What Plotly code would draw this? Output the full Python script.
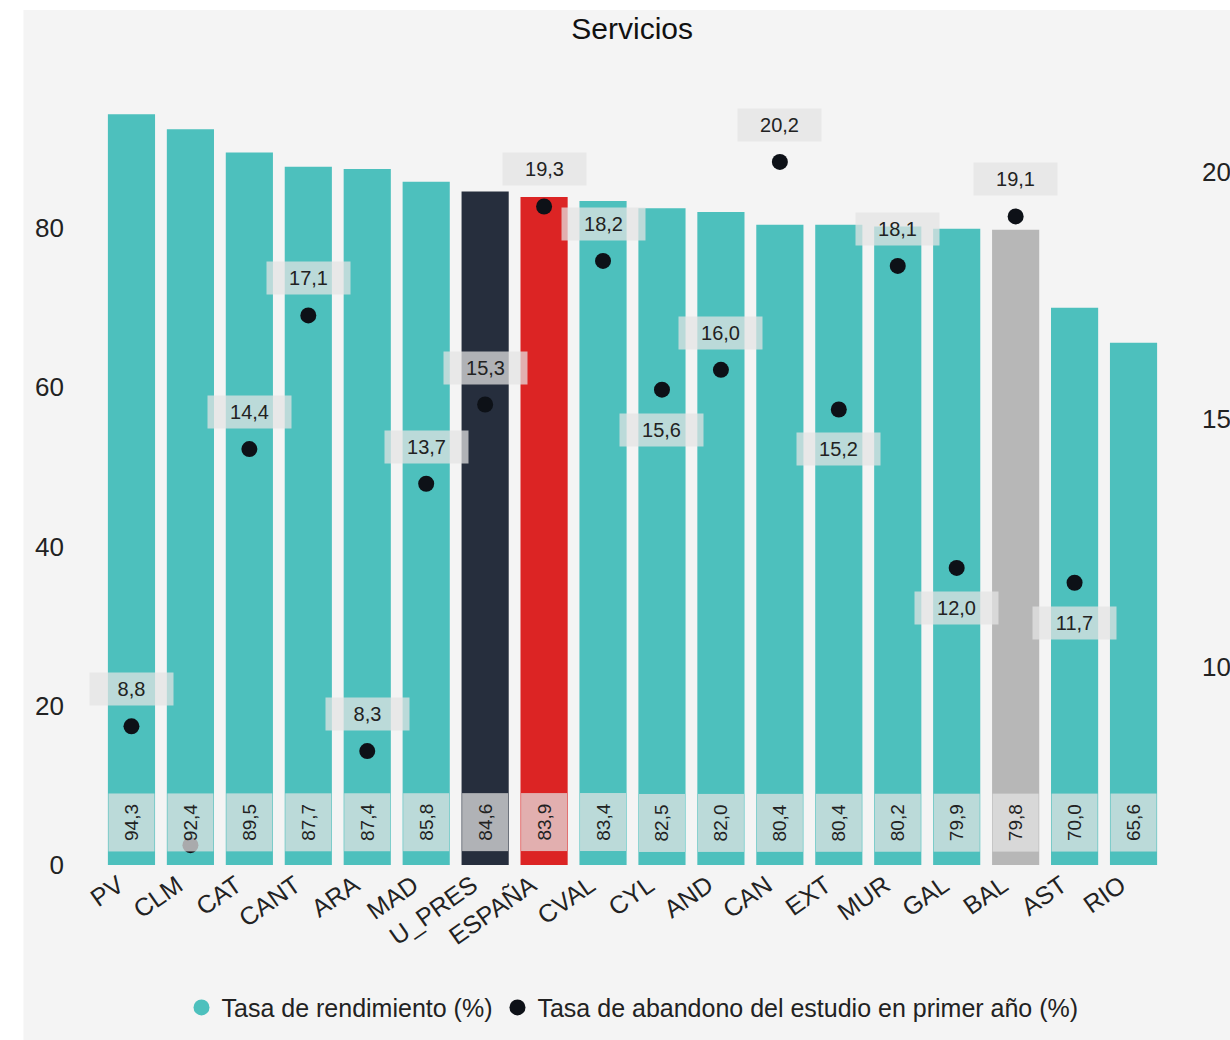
import plotly.graph_objects as go

# Datos
regiones = ["PV", "CLM", "CAT", "CANT", "ARA", "MAD", "U_PRES", "ESPAÑA", "CVAL",
            "CYL", "AND", "CAN", "EXT", "MUR", "GAL", "BAL", "AST", "RIO"]
rendimiento = [94.3, 92.4, 89.5, 87.7, 87.4, 85.8, 84.6, 83.9, 83.4,
               82.5, 82.0, 80.4, 80.4, 80.2, 79.9, 79.8, 70.0, 65.6]
abandono = [8.8, 6.4, 14.4, 17.1, 8.3, 13.7, 15.3, 19.3, 18.2,
            15.6, 16.0, 20.2, 15.2, 18.1, 12.0, 19.1, 11.7, None]

# estilos
TEAL = "#4dc0bd"
colores_especiales = {"U_PRES": "#262e3d", "ESPAÑA": "#dc2424", "BAL": "#b7b7b7"}
etiquetas_abajo = {"CYL", "EXT", "GAL", "AST"}
etiquetas_ocultas = {"CLM"}
FONT = "Arial, Liberation Sans, sans-serif"
CAJA = "rgba(227,227,227,0.73)"

def fmt(v):
    return f"{v:.1f}".replace(".", ",")

bar_colors = [colores_especiales.get(r, TEAL) for r in regiones]

fig = go.Figure()

fig.add_trace(go.Bar(
    x=regiones, y=rendimiento,
    marker=dict(color=bar_colors, line=dict(width=0)),
    name="Tasa de rendimiento (%)",
    showlegend=False,
    yaxis="y"))

fig.add_trace(go.Scatter(
    x=regiones, y=abandono,
    mode="markers",
    marker=dict(color="#0d1117", size=16),
    name="Tasa de abandono del estudio en primer año (%)",
    showlegend=False,
    yaxis="y2"))

# entradas de leyenda con circulos
fig.add_trace(go.Scatter(x=[None], y=[None], mode="markers",
                         marker=dict(color=TEAL, size=18),
                         name="Tasa de rendimiento (%)"))
fig.add_trace(go.Scatter(x=[None], y=[None], mode="markers",
                         marker=dict(color="#0d1117", size=18),
                         name="Tasa de abandono del estudio en primer año (%)"))

annotations = []
# etiquetas de las barras (giradas, en la base)
for r, v in zip(regiones, rendimiento):
    annotations.append(dict(
        x=r, y=0, xref="x", yref="y",
        text=fmt(v), showarrow=False, textangle=-90,
        yanchor="bottom", yshift=13,
        width=49, height=37, borderpad=4,
        bgcolor=CAJA,
        font=dict(size=19, color="#222", family=FONT)))

# etiquetas de los puntos
for r, v in zip(regiones, abandono):
    if v is None or r in etiquetas_ocultas:
        continue
    shift = -40 if r in etiquetas_abajo else 37
    annotations.append(dict(
        x=r, y=v, xref="x", yref="y2",
        text=fmt(v), showarrow=False,
        yanchor="middle", yshift=shift,
        width=75, height=24, borderpad=4,
        bgcolor=CAJA,
        font=dict(size=20, color="#222", family=FONT)))

fig.update_layout(
    width=1230, height=1040,
    margin=dict(l=102, r=67, t=77, b=175, autoexpand=False),
    paper_bgcolor="white",
    plot_bgcolor="rgba(0,0,0,0)",
    font=dict(family=FONT, color="#222"),
    title=dict(text="Servicios", x=0.514, xanchor="center",
               y=1 - 28 / 1040, yanchor="middle", yref="container",
               font=dict(size=30, color="#111", family=FONT)),
    bargap=0.2,
    showlegend=True,
    legend=dict(orientation="h", x=0.5, xanchor="center", y=-0.181, yanchor="middle",
                font=dict(size=25, family=FONT, color="#222"),
                bgcolor="rgba(0,0,0,0)", itemwidth=30),
    xaxis=dict(type="category", range=[-0.5, len(regiones) - 0.5], tickangle=-35,
               showgrid=False, showline=False, zeroline=False, ticks="", automargin=False,
               ticklabelshift=-13,
               tickfont=dict(size=25, family=FONT, color="#222")),
    yaxis=dict(range=[0, 98.97], tickvals=[0, 20, 40, 60, 80], showgrid=False,
               zeroline=False, showline=False, ticklabelstandoff=37, automargin=False,
               tickfont=dict(size=26, family=FONT, color="#222")),
    yaxis2=dict(range=[6.0, 21.915], tickvals=[10, 15, 20], overlaying="y", side="right",
                showgrid=False, zeroline=False, showline=False, ticklabelstandoff=38,
                automargin=False, tickfont=dict(size=26, family=FONT, color="#222")),
    annotations=annotations,
    shapes=[dict(type="rect", xref="paper", yref="paper",
                 x0=-0.074, x1=1.2, y0=-0.3, y1=1.085,
                 fillcolor="#f4f4f4", line=dict(width=0), layer="below")],
)

fig.write_html("out.html", config={"displayModeBar": False},
               post_script="document.body.style.margin='0';")
